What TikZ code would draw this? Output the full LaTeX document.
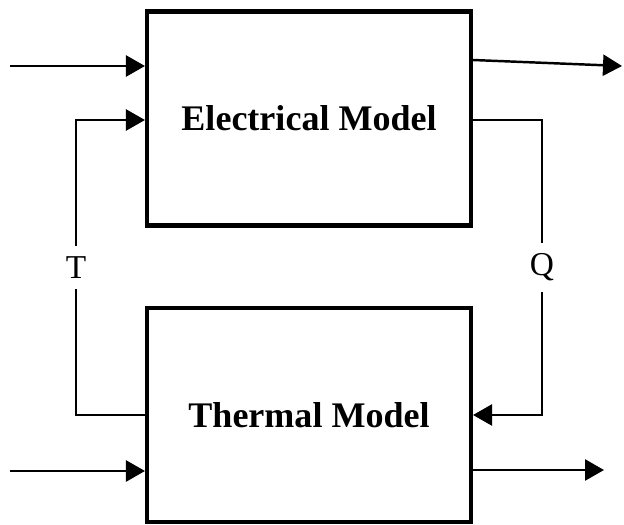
\documentclass[tikz,border=0pt]{standalone}
\usepackage{fontspec}
\setmainfont{Liberation Serif}
\usetikzlibrary{arrows.meta, positioning, calc}
\tikzset{
  % Model block (heavy black border).
  model-box/.style={
    rectangle,
    draw=black, line width=2.3pt,
    fill=white,
    minimum width=64.8mm, minimum height=42.8mm,
    inner sep=0pt,
    align=center,
    font=\fontsize{20.5}{24}\selectfont\bfseries,
  },
  % Signal arrows.
  signal/.style={
    -{Triangle[length=3.8mm, width=4.2mm]},
    line width=1.4pt,
    draw=black,
  },
  % Labels that break the feedback wires.
  signal-label/.style={
    font=\fontsize{19}{22}\selectfont,
    fill=white, inner xsep=2pt, inner ysep=6pt,
  },
}

\begin{document}
\begin{tikzpicture}[x=1cm, y=1cm]

  \useasboundingbox (0,0) rectangle (12.48,-10.48);

  % The two models, one above the other.
  \node[model-box] (elec)  at (6.18, -2.37) {Electrical Model};
  \node[model-box] (therm) at (6.18, -8.30) {Thermal Model};

  % Free ends of the outer inputs and outputs.
  \coordinate (elec-in)   at (0.20, -1.32);
  \coordinate (elec-out)  at (12.44, -1.32);
  \coordinate (therm-in)  at (0.20, -9.42);
  \coordinate (therm-out) at (12.08, -9.40);

  % Corners of the two feedback loops.
  \coordinate (t-corner) at (1.52, -2.40);
  \coordinate (q-corner) at (10.84, -2.40);

  % Outer inputs and outputs.
  \draw[signal] (elec-in) -- (elec-in -| elec.west);
  \draw[signal] ([yshift=11.7mm]elec.east) -- (elec-out);
  \draw[signal] (therm-in) -- (therm-in -| therm.west);
  \draw[signal] (therm-out -| therm.east) -- (therm-out);

  % Temperature back to the electrical model.
  \draw[signal] (therm.west) -| node[signal-label, pos=0.75] {T}
    (t-corner) -- (t-corner -| elec.west);

  % Heat into the thermal model.
  \draw[signal] (q-corner -| elec.east) -- (q-corner)
    |- node[signal-label, pos=0.25] {Q} (therm.east);

\end{tikzpicture}
\end{document}
